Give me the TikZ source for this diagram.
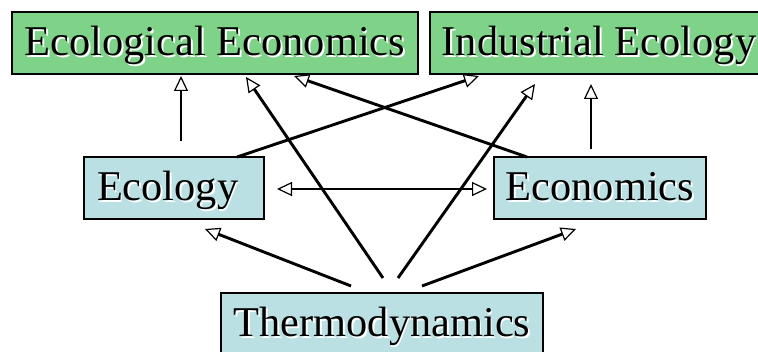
\documentclass[tikz,border=0pt]{standalone}
\usepackage{fontspec}
\setmainfont{Liberation Serif}
\usetikzlibrary{positioning, arrows.meta}
\definecolor{boxgreen}{RGB}{127,211,137}
\definecolor{boxblue}{RGB}{187,224,227}
\newcommand{\shadowtext}[1]{\makebox[0pt][l]{\hspace{1.6pt}\raisebox{-1.6pt}{\color{white}#1}}#1}

\begin{document}
\begin{tikzpicture}[x=1pt, y=1pt,
    field/.style={draw=black, line width=1.2pt, inner sep=0pt, outer sep=0pt, minimum height=62pt,
        font=\fontsize{42.4}{50}\selectfont, text height=32pt, text depth=6pt},
    head/.tip={Triangle[fill=white, length=15pt, width=14pt, line width=1.2pt]},
    link/.style={line width=2.9pt, -head}]
            \useasboundingbox (0,0) rectangle (758,352);
            \node[field, fill=boxgreen, minimum width=406pt] (ecoecon) at (215,309) {\shadowtext{Ecological Economics}};
            \node[field, fill=boxgreen, minimum width=338pt] (indecol) at (599,309) {\shadowtext{Industrial Ecology}};
            \node[field, fill=boxblue, minimum width=180pt, inner xsep=13pt, text width=154pt, align=left] (ecology) at (174,164) {\shadowtext{Ecology}};
            \node[field, fill=boxblue, minimum width=212pt] (economics) at (600,164) {\shadowtext{Economics}};
            \node[field, fill=boxblue, minimum width=322pt] (thermo) at (382,28) {\shadowtext{Thermodynamics}};

            \draw[link] ([shift={(7,16)}]ecology.north) -- ([shift={(-34,-2)}]ecoecon.south);
            \draw[link] ([shift={(1,15)}]thermo.north) -- ([shift={(31,-3)}]ecoecon.south);
            \draw[link] ([shift={(-73,0)}]economics.north) -- ([shift={(79,-2)}]ecoecon.south);
            \draw[link] ([shift={(63,0)}]ecology.north) -- ([shift={(-120,-2)}]indecol.south);
            \draw[link] ([shift={(16,15)}]thermo.north) -- ([shift={(-64,-10)}]indecol.south);
            \draw[link] ([shift={(-9,8)}]economics.north) -- ([shift={(-8,-10)}]indecol.south);
            \draw[link, head-head] ([shift={(13,-1)}]ecology.east) -- ([shift={(-7,-1)}]economics.west);
            \draw[link] ([shift={(-31,7)}]thermo.north) -- ([shift={(31,-10)}]ecology.south);
            \draw[link] ([shift={(40,7)}]thermo.north) -- ([shift={(-24,-10)}]economics.south);
        \end{tikzpicture}
\end{document}
